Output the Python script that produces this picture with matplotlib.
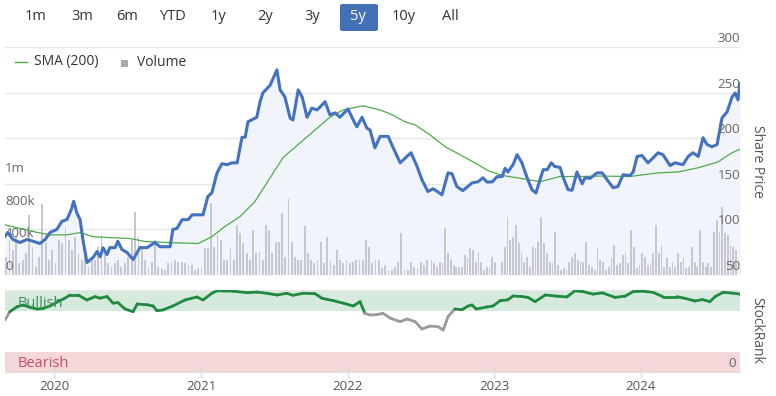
import matplotlib
matplotlib.use("Agg")
import matplotlib.pyplot as plt
import matplotlib.dates as mdates
import matplotlib.transforms as mtrans
import numpy as np
import pandas as pd
from matplotlib.collections import LineCollection
from matplotlib.patches import FancyBboxPatch, Rectangle
from matplotlib.lines import Line2D

plt.rcParams['font.family'] = ['Open Sans', 'DejaVu Sans']

# ---------------------------------------------------------------------------
# Data
# ---------------------------------------------------------------------------
price_dates = [
    '2019-09-01', '2019-09-08', '2019-09-21', '2019-10-08', '2019-10-26', '2019-11-10',
    '2019-11-27', '2019-12-10', '2019-12-22', '2020-01-08', '2020-01-21', '2020-02-02',
    '2020-02-13', '2020-02-19', '2020-02-27', '2020-03-06', '2020-03-13', '2020-03-23',
    '2020-04-07', '2020-04-17', '2020-04-25', '2020-05-02', '2020-05-12', '2020-05-19',
    '2020-06-01', '2020-06-08', '2020-06-18', '2020-07-01', '2020-07-16', '2020-08-02',
    '2020-08-20', '2020-09-08', '2020-09-21', '2020-10-16', '2020-10-23', '2020-11-02',
    '2020-11-15', '2020-11-30', '2020-12-10', '2020-12-25', '2021-01-06', '2021-01-18',
    '2021-01-28', '2021-02-10', '2021-02-22', '2021-03-07', '2021-03-19', '2021-04-01',
    '2021-04-13', '2021-04-21', '2021-04-28', '2021-05-20', '2021-05-28', '2021-06-04',
    '2021-06-22', '2021-07-09', '2021-07-17', '2021-07-29', '2021-08-11', '2021-08-18',
    '2021-08-31', '2021-09-10', '2021-09-22', '2021-10-04', '2021-10-17', '2021-10-24',
    '2021-11-06', '2021-11-18', '2021-12-01', '2021-12-13', '2021-12-26', '2022-01-02',
    '2022-01-15', '2022-01-24', '2022-02-06', '2022-02-18', '2022-02-26', '2022-03-10',
    '2022-03-23', '2022-04-12', '2022-04-24', '2022-05-12', '2022-05-31', '2022-06-08',
    '2022-06-23', '2022-07-05', '2022-07-20', '2022-08-02', '2022-08-24', '2022-09-08',
    '2022-09-18', '2022-09-30', '2022-10-15', '2022-11-07', '2022-11-22', '2022-12-04',
    '2022-12-14', '2022-12-27', '2023-01-08', '2023-01-21', '2023-01-28', '2023-02-04',
    '2023-02-17', '2023-02-27', '2023-03-11', '2023-03-24', '2023-04-05', '2023-04-15',
    '2023-04-25', '2023-05-03', '2023-05-13', '2023-05-23', '2023-06-01', '2023-06-14',
    '2023-06-21', '2023-07-04', '2023-07-14', '2023-07-26', '2023-08-08', '2023-08-15',
    '2023-08-28', '2023-09-14', '2023-09-27', '2023-10-09', '2023-10-24', '2023-11-05',
    '2023-11-18', '2023-12-05', '2023-12-13', '2023-12-23', '2024-01-04', '2024-01-19',
    '2024-02-01', '2024-02-13', '2024-02-25', '2024-03-14', '2024-03-26', '2024-04-15',
    '2024-04-28', '2024-05-10', '2024-05-23', '2024-06-04', '2024-06-14', '2024-06-26',
    '2024-07-09', '2024-07-21', '2024-08-03', '2024-08-15', '2024-08-23', '2024-08-30',
    '2024-09-04',
]
price = [
    92.5, 96.5, 89, 85.6, 89, 87,
    84.5, 89, 96.5, 100, 109, 110.7,
    121.7, 130.8, 118, 110.7, 89, 63.7,
    69, 75.7, 70, 80, 72.4, 80,
    80, 87, 78, 74.6, 67, 80,
    80, 85.6, 81, 81, 100, 101,
    110.7, 110.7, 116, 116, 116, 136,
    140, 162, 172, 171, 173, 173,
    201, 201, 218, 223, 240, 249.6,
    258, 275, 253, 245, 222, 220,
    253, 245, 223, 233, 231, 234,
    240, 225.6, 227.8, 223, 229, 232,
    220, 212.5, 223, 211, 209, 189.5,
    202, 202, 190, 173, 181, 184,
    169, 154.5, 141.5, 144.6, 138, 162,
    161, 147, 142.5, 151, 152.3, 156.6,
    152, 152, 157.8, 158, 167, 163,
    171, 182, 173, 156.6, 143.5, 140,
    154.5, 165.5, 165.5, 173, 169, 168,
    158, 143.5, 143, 163, 150, 156.6,
    156, 162, 162, 154.5, 145.7, 147,
    160, 159, 163, 180, 181, 173,
    178.6, 184, 182, 170, 173, 171,
    180, 184, 180, 200.5, 193, 190.6,
    193, 222, 229, 245, 249.6, 242,
    260,
]

sma_dates = [
    '2019-09-01', '2019-11-10', '2019-12-22', '2020-02-02', '2020-03-06', '2020-04-07',
    '2020-05-19', '2020-07-08', '2020-08-15', '2020-10-11', '2020-12-25', '2021-01-28',
    '2021-03-01', '2021-04-08', '2021-05-15', '2021-06-14', '2021-07-24', '2021-09-05',
    '2021-10-17', '2021-11-18', '2021-12-21', '2022-02-08', '2022-03-23', '2022-04-17',
    '2022-05-24', '2022-06-18', '2022-07-25', '2022-09-01', '2022-09-25', '2022-11-14',
    '2022-12-17', '2023-01-23', '2023-02-27', '2023-04-25', '2023-06-14', '2023-08-03',
    '2023-09-22', '2023-12-05', '2024-02-13', '2024-04-03', '2024-05-23', '2024-07-11',
    '2024-08-15', '2024-09-04',
]
sma = [
    105, 97.6, 94, 94, 96.5, 92,
    91, 90, 86.7, 85.6, 84.5, 92,
    103, 114, 130.4, 151, 178.6, 195,
    211, 223, 231, 235.5, 231, 226.7,
    218, 214.7, 203.7, 190.6, 185, 173,
    164.3, 159, 156.6, 152.3, 158, 158,
    158.5, 158, 162, 163, 167.6, 174,
    184, 188,
]

# volume (thousands of shares), read in stretches of the chart
vol_2019_20 = [225, 430, 310, 470, 145, 185, 265, 740, 350, 100, 225, 880, 390, 185, 310,
               145, 430, 390, 595, 430, 310, 470, 265, 185, 225, 100, 185, 185, 350, 490,
               265, 145, 100, 145, 185, 100, 145, 225]
vol_2020_b = [430, 780, 470, 350, 185, 100, 160, 430, 100, 80, 60, 145, 165, 185, 165]
vol_2020_22 = [164, 144, 123, 123, 62, 82, 103, 328, 328, 890, 349, 492, 430, 185, 185,
               328, 185, 615, 512, 390, 267, 185, 553, 267, 287, 185, 615, 553, 267, 410,
               410, 758, 225, 930, 410, 225, 185, 185, 603, 267, 185, 144, 185, 410, 144,
               472, 185, 123, 308, 185, 144, 185, 144, 164, 185, 185, 185, 430, 349, 144,
               185, 185, 82, 123, 62, 62, 103, 164, 512, 62, 62, 164, 103, 82, 164,
               123, 185]
vol_2022_23 = [185, 145, 100, 164, 145, 575, 267, 185, 123, 100, 100, 100, 246, 205, 328,
               308, 164, 287, 164, 62, 100, 82, 225, 164]
vol_2023 = [164, 349, 718, 430, 470, 615, 390, 267, 164, 225, 100, 349, 328, 410, 718,
            390, 267, 164, 145, 533, 123, 62, 82, 62, 164, 225, 267, 185, 164, 164,
            410, 123, 100, 62, 328, 185, 164, 62, 100, 205, 369, 123, 145, 246, 267,
            145]
vol_2024 = [553, 349, 82, 123, 267, 225, 123, 145, 267, 615, 267, 357, 100, 205, 100,
            164, 100, 267, 164, 205, 82, 100, 349, 164, 100, 553, 164, 100, 145, 100,
            533, 676, 533, 840, 513, 492, 369, 349, 308]
vol_spans = [('2019-09-04', '2020-07-03'), ('2020-07-13', '2020-11-05'),
             ('2020-11-15', '2022-07-18'), ('2022-07-29', '2023-01-03'),
             ('2023-01-20', '2023-12-01'), ('2023-12-08', '2024-08-25')]
vol_chunks = [vol_2019_20, vol_2020_b, vol_2020_22, vol_2022_23, vol_2023, vol_2024]

rank_dates = [
    '2019-09-01', '2019-09-13', '2019-10-01', '2019-10-16', '2019-11-02', '2019-11-20',
    '2019-12-05', '2019-12-22', '2020-01-11', '2020-01-28', '2020-02-10', '2020-03-01',
    '2020-03-23', '2020-04-12', '2020-04-25', '2020-05-12', '2020-05-27', '2020-06-08',
    '2020-06-26', '2020-07-16', '2020-07-26', '2020-08-20', '2020-09-04', '2020-09-13',
    '2020-09-28', '2020-10-23', '2020-11-22', '2020-12-22', '2021-01-06', '2021-01-28',
    '2021-02-10', '2021-03-22', '2021-04-26', '2021-05-20', '2021-06-14', '2021-07-09',
    '2021-08-03', '2021-08-18', '2021-09-12', '2021-10-12', '2021-10-29', '2021-11-26',
    '2021-12-21', '2022-01-15', '2022-02-01', '2022-02-13', '2022-02-26', '2022-03-15',
    '2022-03-30', '2022-04-17', '2022-05-04', '2022-05-12', '2022-05-29', '2022-06-18',
    '2022-07-05', '2022-07-25', '2022-08-14', '2022-08-27', '2022-09-08', '2022-09-25',
    '2022-10-13', '2022-10-28', '2022-11-07', '2022-11-17', '2022-12-14', '2022-12-29',
    '2023-01-16', '2023-02-04', '2023-02-17', '2023-03-11', '2023-03-26', '2023-04-13',
    '2023-05-08', '2023-06-06', '2023-07-01', '2023-07-21', '2023-08-10', '2023-09-04',
    '2023-09-27', '2023-10-29', '2023-11-23', '2023-12-13', '2024-01-06', '2024-02-01',
    '2024-02-25', '2024-03-31', '2024-04-20', '2024-05-15', '2024-06-02', '2024-06-21',
    '2024-07-04', '2024-07-24', '2024-08-15', '2024-09-04',
]
stock_rank = [
    63.4, 73.5, 79.6, 81.7, 79, 76.8,
    77.6, 80.5, 85.8, 90, 93.9, 93.9,
    87.8, 91.9, 90, 92, 84, 84.6,
    76.8, 73.5, 82.9, 82, 80.5, 74.8,
    75.6, 80.5, 87.8, 91.5, 87.8, 96,
    99, 98.6, 96.7, 97.5, 96, 93.9,
    96, 93.5, 96, 95.5, 90, 87,
    84, 80.5, 85.8, 71.5, 69.5, 70,
    71.5, 65.8, 62.6, 61.4, 64.6, 61.4,
    52.4, 56, 55.3, 51.2, 67.5, 76.8,
    76, 80.5, 81.7, 76.8, 79.3, 80.5,
    87, 88, 92.7, 92, 91, 85.8,
    93.9, 92.5, 91.5, 99, 98, 95,
    96.5, 91, 92.5, 98, 98.6, 97,
    91.9, 91.9, 89.8, 86.6, 88.3, 85.8,
    91.9, 97.2, 96.3, 95,
]

buttons = ['1m', '3m', '6m', 'YTD', '1y', '2y', '3y', '5y', '10y', 'All']
selected_button = '5y'
years = [2020, 2021, 2022, 2023, 2024]
price_ticks = [50, 100, 150, 200, 250, 300]
vol_ticks = [0, 400, 800, 1200]
vol_tick_labels = ['0', '400k', '800k', '1m']

# ---------------------------------------------------------------------------
# Styling
# ---------------------------------------------------------------------------
BLUE = '#4372c0'
GREEN_SMA = '#4cad47'
BAR = '#c6c8cd'
FILL = '#f2f4fb'
GRID = '#e6e6e6'
TXT = '#333333'
AXTXT = '#666666'

W, H = 776, 396
fig = plt.figure(figsize=(W / 100, H / 100), dpi=100)


def box(l, t, r, b):
    return [l / W, 1 - b / H, (r - l) / W, (b - t) / H]


p_dates = pd.to_datetime(price_dates)
s_dates = pd.to_datetime(sma_dates)
r_dates = pd.to_datetime(rank_dates)
xmin, xmax = pd.Timestamp('2019-09-01'), pd.Timestamp('2024-09-04')

# --- main panel: fill + grid (bottom), volume (middle), lines (top) ---
ax_bg = fig.add_axes(box(5, 47, 740, 275))
ax_bg.set_xlim(xmin, xmax)
ax_bg.set_ylim(50, 300)
for v in price_ticks:
    ax_bg.axhline(v, color=GRID, lw=1, zorder=0)
ax_bg.fill_between(p_dates, price, 50, color=FILL, lw=0, zorder=1)

ax_vol = ax_bg.twinx()
vol_top = 228 / 32.5 * 400
ax_vol.set_ylim(0, vol_top)
for (d0, d1), chunk in zip(vol_spans, vol_chunks):
    d = pd.date_range(d0, d1, periods=len(chunk))
    ax_vol.bar(d, chunk, width=4.5, color=BAR, lw=0)

ax_ln = ax_bg.twinx()
ax_ln.set_ylim(50, 300)
ax_ln.plot(s_dates, sma, color=GREEN_SMA, lw=0.9)
ax_ln.plot(p_dates, price, color=BLUE, lw=2.2, solid_joinstyle='round')

for a in (ax_bg, ax_vol, ax_ln):
    a.set_xlim(xmin, xmax)
    a.set_xticks([])
    a.set_yticks([])
    for s in a.spines.values():
        s.set_visible(False)
    a.patch.set_visible(False)

# right price labels, sitting just above their gridlines
tr = mtrans.blended_transform_factory(ax_ln.transAxes, ax_ln.transData)
for v in price_ticks:
    ax_ln.annotate(str(v), (1.0, v), xycoords=tr, xytext=(0, 1.5),
                   textcoords='offset points', ha='right', va='bottom',
                   fontsize=9.5, color=AXTXT)
# left volume labels
trv = mtrans.blended_transform_factory(ax_vol.transAxes, ax_vol.transData)
for v, lab in zip(vol_ticks, vol_tick_labels):
    ax_vol.annotate(lab, (0.0, v), xycoords=trv, xytext=(0, 1.5),
                    textcoords='offset points', ha='left', va='bottom',
                    fontsize=9.5, color=AXTXT)

fig.text(757 / W, 1 - 161 / H, 'Share Price', rotation=270, ha='center',
         va='center', fontsize=10, color='#555555')

# legend
fig.add_artist(Line2D([15 / W, 27 / W], [1 - 62 / H] * 2, color=GREEN_SMA, lw=1))
fig.text(34 / W, 1 - 62 / H, 'SMA (200)', ha='left', va='center', fontsize=10, color=TXT)
fig.add_artist(Rectangle((121 / W, 1 - 67 / H), 7 / W, 7 / H, color='#aaaaaa', lw=0))
fig.text(137 / W, 1 - 62 / H, 'Volume', ha='left', va='center', fontsize=10, color=TXT)

# range buttons
btn_x = [36, 82, 127, 173, 219, 265, 312, 358, 404, 450]
for lab, bx in zip(buttons, btn_x):
    if lab == selected_button:
        fig.add_artist(FancyBboxPatch((340 / W, 1 - 31 / H), 38 / W, 27 / H,
                                      boxstyle='round,pad=0,rounding_size=0.004',
                                      fc='#4470b8', ec='none'))
        fig.text(bx / W, 1 - 17 / H, lab, ha='center', va='center', fontsize=10.5,
                 color='white')
    else:
        fig.text(bx / W, 1 - 17 / H, lab, ha='center', va='center', fontsize=10.5,
                 color=TXT)

# --- StockRank panel ---
ax_r = fig.add_axes(box(5, 290, 740, 372))
ax_r.set_xlim(xmin, xmax)
ax_r.set_ylim(0, 100)
ax_r.axhspan(75, 100, color='#d5eadc', lw=0, zorder=0)
ax_r.axhspan(0, 25, color='#f5d8da', lw=0, zorder=0)
ax_r.axhline(100, color=GRID, lw=1, zorder=0)

rx = mdates.date2num(r_dates)
pts = np.column_stack([rx, stock_rank])
segs = np.stack([pts[:-1], pts[1:]], axis=1)
mid = (np.array(stock_rank[:-1]) + np.array(stock_rank[1:])) / 2
cols = ['#1f8a3f' if m >= 74 else '#9a9a9a' for m in mid]
ax_r.add_collection(LineCollection(segs, colors=cols, lw=2.0, capstyle='round',
                                   joinstyle='round', zorder=3))

trr = mtrans.blended_transform_factory(ax_r.transAxes, ax_r.transData)
ax_r.text(0.017, 84, 'Bullish', transform=trr, ha='left', va='center',
          fontsize=10.5, color='#3d8c5c')
ax_r.text(0.017, 10, 'Bearish', transform=trr, ha='left', va='center',
          fontsize=10.5, color='#d24a60')
ax_r.text(0.994, 10, '0', transform=trr, ha='right', va='center', fontsize=9.5,
          color=AXTXT)

ax_r.set_yticks([])
ax_r.set_xticks([pd.Timestamp(f'{y}-01-01') for y in years])
ax_r.set_xticklabels([str(y) for y in years])
ax_r.tick_params(axis='x', direction='inout', length=8, width=1, color='#dcdcdc',
                 labelsize=9.5, labelcolor='#555555', pad=2)
for k, s in ax_r.spines.items():
    if k == 'bottom':
        s.set_color('#e0e0e0')
    else:
        s.set_visible(False)

fig.text(757 / W, 1 - 330 / H, 'StockRank', rotation=270, ha='center',
         va='center', fontsize=10, color='#555555')

fig.savefig('out.png', dpi=100)
